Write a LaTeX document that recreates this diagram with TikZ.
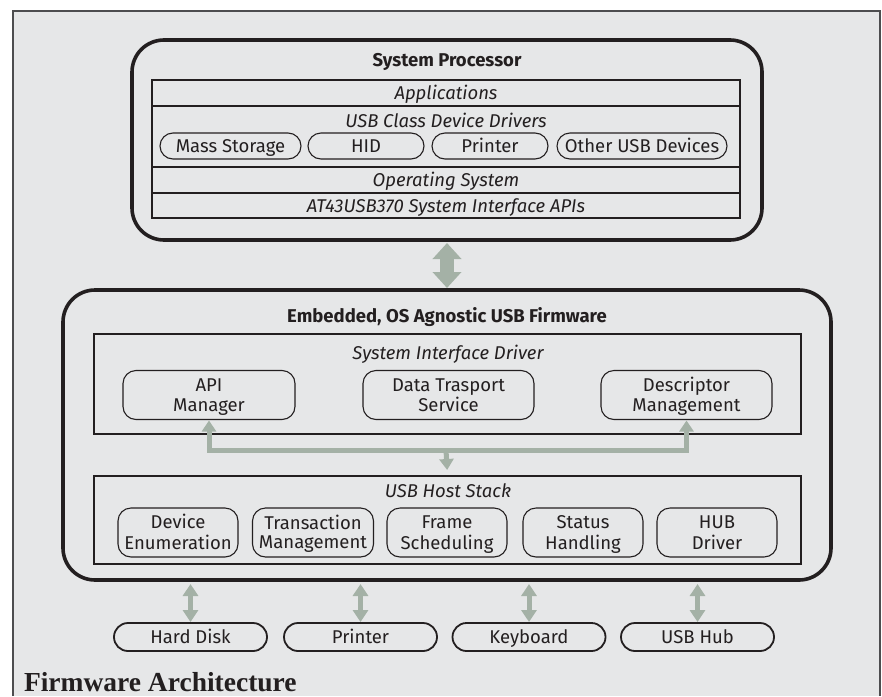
\documentclass[tikz,border=0pt]{standalone}
\usepackage{fontspec}
\setsansfont{Fira Sans}
\newfontfamily\captionfont{Liberation Serif}
\usetikzlibrary{arrows.meta}
\definecolor{panelbg}{HTML}{E6E7E8}
\definecolor{ink}{HTML}{231F20}
\definecolor{flow}{HTML}{A4B1A6}
\definecolor{frame}{HTML}{4D4D4F}

% two centred lines of equal height inside a module box
% (the strut in the first row keeps the capitals optically centred)
\newcommand{\twolines}[2]{\begin{tabular}{@{}c@{}}\rule{0pt}{18.6pt}#1\\#2\end{tabular}}

\begin{document}
\begin{tikzpicture}[x=1pt,y=-1pt,
  every node/.style={outer sep=0pt, inner sep=0pt, text=ink,
    font=\sffamily\fontsize{18.5}{19.5}\selectfont},
  oneline/.style={text height=14pt, text depth=1pt},
  outerbox/.style={draw=ink, line width=3.6pt, rounded corners=32pt},
  layerbox/.style={draw=ink, line width=2.2pt, minimum width=707pt},
  rowbox/.style={draw=ink, line width=2.4pt, minimum width=588pt, oneline,
    font=\sffamily\itshape\fontsize{18.5}{19.5}\selectfont},
  title/.style={oneline, font=\sffamily\bfseries\fontsize{18.5}{19.5}\selectfont},
  layer/.style={oneline, font=\sffamily\itshape\fontsize{18.5}{19.5}\selectfont},
  pill/.style={draw=ink, line width=1.1pt, rounded corners=13pt, minimum height=26pt, oneline},
  module/.style={draw=ink, line width=1.1pt, rounded corners=13pt, minimum height=49pt},
  device/.style={draw=ink, line width=1.8pt, rounded corners=14pt,
    minimum width=153pt, minimum height=28pt, oneline},
  bigflow/.style={draw=flow, line width=14pt,
    {Triangle[length=16pt,width=28pt]}-{Triangle[length=16pt,width=28pt]}},
  flowline/.style={draw=flow, line width=5pt}
]
\useasboundingbox (0,0) rectangle (882,696);

% background panel with open bottom edge
\fill[panelbg] (13,11) rectangle (880,696);
\draw[frame, line width=1.4pt] (13,696) -- (13,11) -- (880,11) -- (880,696);

% ---------------- system processor ----------------
\node[outerbox, minimum width=630pt, minimum height=200pt] (proc) at (447,140) {};
\node[title] (proctitle) at (447,60) {System Processor};

\node[rowbox, minimum height=26pt] (apps)  at (446,93)    {Applications};
\node[rowbox, minimum height=61pt] (cls)   at (446,136.5) {};
\node[rowbox, minimum height=26pt] (osrow) at (446,180)   {Operating System};
\node[rowbox, minimum height=25pt] (apirow) at (446,205.5) {AT43USB370 System Interface APIs};
\node[layer] (clstitle) at (446,121) {USB Class Device Drivers};

\node[pill, minimum width=141pt] (mass)  at (230.5,146) {Mass Storage};
\node[pill, minimum width=116pt] (hid)   at (366,146)   {HID};
\node[pill, minimum width=116pt] (cprn)  at (490,146)   {Printer};
\node[pill, minimum width=170pt] (other) at (642,146)   {Other USB Devices};

% ---------------- embedded firmware ----------------
\node[outerbox, minimum width=768pt, minimum height=290pt] (fw) at (447,435) {};
\node[title] (fwtitle) at (447,316) {Embedded, OS Agnostic USB Firmware};

\node[layerbox, minimum height=100pt] (sid) at (447.5,384) {};
\node[layer] (sidtitle) at (448,353) {System Interface Driver};
\node[module, minimum width=172pt] (apim) at (209,395)   {\twolines{API}{Manager}};
\node[module, minimum width=171pt] (dts)  at (448.5,395) {\twolines{Data Trasport}{Service}};
\node[module, minimum width=171pt] (desc) at (686.5,395) {\twolines{Descriptor}{Management}};

\node[layerbox, minimum height=88pt] (host) at (447.5,520) {};
\node[layer] (hosttitle) at (448,491) {USB Host Stack};
\node[module, minimum width=120pt] (enum)  at (178,532.5) {\twolines{Device}{Enumeration}};
\node[module, minimum width=121pt] (trans) at (313,532.5) {\twolines{Transaction}{Management}};
\node[module, minimum width=120pt] (frame) at (447,532.5) {\twolines{Frame}{Scheduling}};
\node[module, minimum width=120pt] (stat)  at (583,532.5) {\twolines{Status}{Handling}};
\node[module, minimum width=120pt] (hub)   at (717,532.5) {\twolines{HUB}{Driver}};

% ---------------- attached devices ----------------
\node[device] (disk) at (190.5,637) {Hard Disk};
\node[device] (dprn) at (360.5,637) {Printer};
\node[device] (kbd)  at (529,637)   {Keyboard};
\node[device] (uhub) at (697.5,637) {USB Hub};

% ---------------- data flow ----------------
\draw[bigflow, shorten <=3pt, shorten >=2pt] (proc.south) -- (fw.north);

\coordinate (bus) at (446,450);
\draw[flowline, {Triangle[length=11pt,width=14pt]}-{Triangle[length=11pt,width=14pt]},
  shorten <=1pt, shorten >=1pt] (apim.south) |- (bus) -| (desc.south);
\draw[flowline, -{Triangle[length=11pt,width=14pt]}, shorten >=6pt] (bus) -- (host.north);

\foreach \d in {disk,dprn,kbd,uhub}
  \draw[flowline, {Triangle[length=12pt,width=15pt]}-{Triangle[length=12pt,width=15pt]},
    shorten <=4pt, shorten >=1pt] (\d.north |- fw.south) -- (\d.north);

% ---------------- caption ----------------
\node[anchor=base west, text depth=0pt,
  font=\captionfont\bfseries\fontsize{27.5}{30}\selectfont]
  (caption) at (24,691) {Firmware Architecture};
\end{tikzpicture}
\end{document}
